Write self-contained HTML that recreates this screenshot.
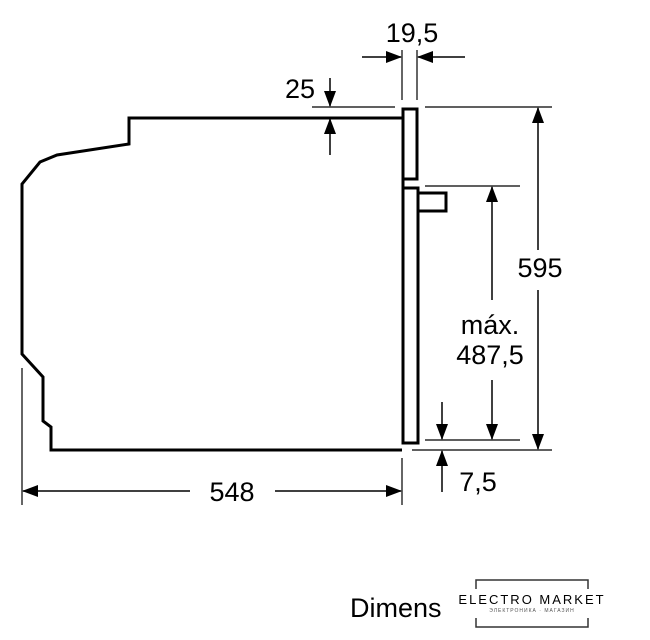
<!DOCTYPE html>
<html><head><style>body{margin:0;background:#fff}svg{display:block}</style></head><body>
<svg width="650" height="640" viewBox="0 0 650 640" xmlns="http://www.w3.org/2000/svg">
<defs>
<marker id="a" markerWidth="10" markerHeight="10" refX="9" refY="5" orient="auto" markerUnits="userSpaceOnUse"><path d="M0,0 L10,5 L0,10 Z" fill="#000"/></marker>
<marker id="b" markerWidth="16" markerHeight="12" refX="15" refY="6" orient="auto" markerUnits="userSpaceOnUse"><path d="M0,0 L16,6 L0,12 Z" fill="#000"/></marker>
</defs>
<g fill="none" stroke="#000" stroke-width="3" stroke-linejoin="miter">
<path d="M402,118 L129,118 L129,144 L57,155 L40,162 L22,184 L22,354 L43,377 L43,421 L51,427 L51,450 L402,450"/>
<rect x="403" y="109" width="14" height="70"/>
<path d="M403,179 L403,188 L403,443 L418,443 L418,188 L403,188"/>
<path d="M418,193 L446,193 L446,211 L418,211"/>
</g>
<g stroke="#000" stroke-width="1.2" fill="none">
<line x1="22" y1="368" x2="22" y2="505"/>
<line x1="402" y1="458" x2="402" y2="505"/>
<line x1="402" y1="50" x2="402" y2="100"/>
<line x1="417" y1="50" x2="417" y2="100"/>
<line x1="312" y1="107" x2="395" y2="107"/>
<line x1="425" y1="107" x2="552" y2="107"/>
<line x1="425" y1="186" x2="520" y2="186"/>
<line x1="425" y1="440" x2="520" y2="440"/>
<line x1="412" y1="450" x2="552" y2="450"/>
</g>
<g stroke="#000" stroke-width="1.5">
<line x1="362" y1="57" x2="401" y2="57" marker-end="url(#b)"/>
<line x1="465" y1="57" x2="418" y2="57" marker-end="url(#b)"/>
<line x1="330" y1="78" x2="330" y2="106" marker-end="url(#b)"/>
<line x1="330" y1="155" x2="330" y2="119" marker-end="url(#b)"/>
<line x1="538" y1="250" x2="538" y2="108" marker-end="url(#b)"/>
<line x1="538" y1="290" x2="538" y2="449" marker-end="url(#b)"/>
<line x1="492" y1="300" x2="492" y2="187" marker-end="url(#b)"/>
<line x1="492" y1="380" x2="492" y2="439" marker-end="url(#b)"/>
<line x1="442" y1="402" x2="442" y2="439" marker-end="url(#b)"/>
<line x1="442" y1="492" x2="442" y2="451" marker-end="url(#b)"/>
<line x1="190" y1="491" x2="23" y2="491" marker-end="url(#b)"/>
<line x1="275" y1="491" x2="401" y2="491" marker-end="url(#b)"/>
</g>
<g font-family="Liberation Sans, sans-serif" font-size="27" fill="#000" text-anchor="middle">
<text x="412" y="42">19,5</text>
<text x="300" y="98">25</text>
<text x="540" y="277">595</text>
<text x="490" y="334">máx.</text>
<text x="490" y="364">487,5</text>
<text x="478" y="491">7,5</text>
<text x="232" y="501">548</text>
<text x="350" y="617" text-anchor="start">Dimens</text>
</g>
<rect x="448" y="574" width="160" height="66" fill="#fff"/>
<path d="M476,589 L476,580 L588,580 L588,589 M476,618 L476,627 L588,627 L588,618" fill="none" stroke="#333" stroke-width="1.5"/>
<text x="532" y="604" font-family="Liberation Sans, sans-serif" font-size="13" letter-spacing="2" text-anchor="middle">ELECTRO MARKET</text>
<text x="532" y="612" font-family="Liberation Sans, sans-serif" font-size="5" letter-spacing="1" text-anchor="middle" fill="#555">ЭЛЕКТРОНИКА · МАГАЗИН</text>
</svg>
</body></html>
